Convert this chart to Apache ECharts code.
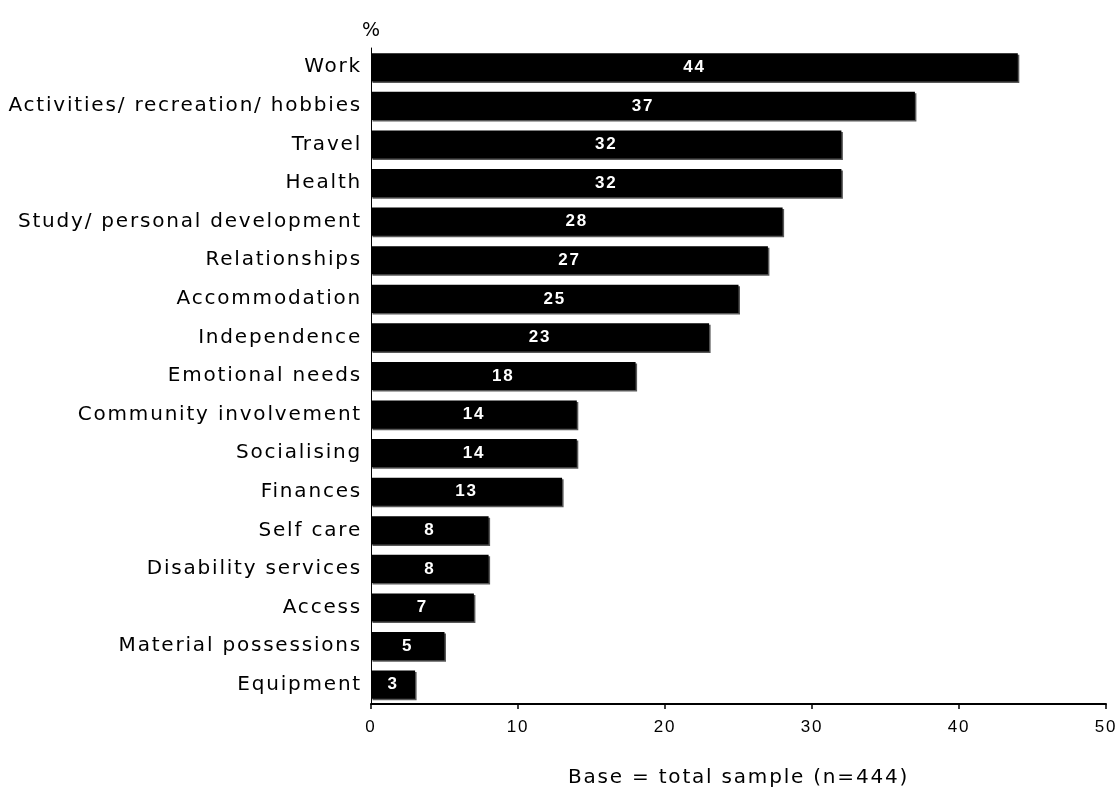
<!DOCTYPE html>
<html><head><meta charset="utf-8">
<script src="https://cdn.jsdelivr.net/npm/echarts@6/dist/echarts.min.js"></script>
<style>html,body{margin:0;padding:0;background:#fff}#c{width:1120px;height:810px}</style>
</head><body><div id="c"></div>
<script>
const categories = ["Work","Activities/ recreation/ hobbies","Travel","Health","Study/ personal development","Relationships","Accommodation","Independence","Emotional needs","Community involvement","Socialising","Finances","Self care","Disability services","Access","Material possessions","Equipment"];
const values = [44,37,32,32,28,27,25,23,18,14,14,13,8,8,7,5,3];
const xTicks = [0,10,20,30,40,50];
const unitLabel = "%";
const baseNote = "Base = total sample (n=444)";

const chart = echarts.init(document.getElementById('c'), null, {renderer:'canvas'});
const option = {
  animation:false,
  backgroundColor:'#fff',
  title:{text:unitLabel,left:357,top:17,textStyle:{fontFamily:'DejaVu Sans',fontSize:19,fontWeight:'normal',color:'#000'}},
  grid:{left:371,right:14,top:48,bottom:106},
  xAxis:{type:'value',min:xTicks[0],max:xTicks[xTicks.length-1],interval:10,
    axisLine:{show:true,lineStyle:{color:'#000',width:2}},
    axisTick:{show:true,length:5,lineStyle:{color:'#000',width:1.5}},
    splitLine:{show:false},
    axisLabel:{fontFamily:'Liberation Sans',fontSize:17,color:'#000',margin:15},
    name:baseNote,nameLocation:'middle',nameGap:64,
    nameTextStyle:{fontFamily:'DejaVu Sans',fontSize:20,color:'#000'}},
  yAxis:{type:'category',data:categories,inverse:true,
    axisLine:{show:true,lineStyle:{color:'#000',width:1}},
    axisTick:{show:false},
    axisLabel:{fontFamily:'DejaVu Sans',fontSize:20,color:'#000',margin:9}},
  series:[{type:'bar',data:values,barCategoryGap:'27%',
    itemStyle:{color:'#000',shadowColor:'rgba(70,70,70,0.9)',shadowOffsetX:1.5,shadowOffsetY:1.5,shadowBlur:0},
    label:{show:true,position:'inside',color:'#fff',fontFamily:'Liberation Sans',fontWeight:'bold',fontSize:17}}]
};
chart.setOption(option);
chart.getZr().refreshImmediately();
document.querySelectorAll('#c canvas').forEach(function(cv){
  const ctx = cv.getContext('2d');
  if ('letterSpacing' in ctx) ctx.letterSpacing = '1.8px';
});
chart.setOption(option, true);
chart.getZr().refreshImmediately();
</script></body></html>
